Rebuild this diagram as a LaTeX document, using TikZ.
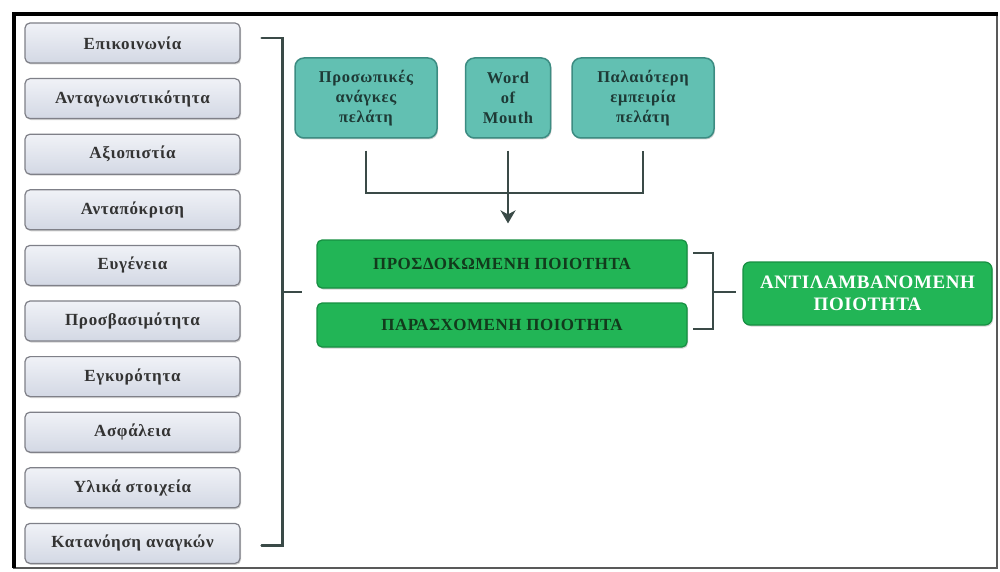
\documentclass[tikz,border=0pt]{standalone}
\usepackage{fontspec}
\setmainfont{Liberation Serif}
\newfontfamily\spacedA[LetterSpace=4]{Liberation Serif}
\newfontfamily\spacedB[LetterSpace=3]{Liberation Serif}
\usetikzlibrary{shadows,arrows.meta}
\definecolor{lefttop}{HTML}{F0F2F7}
\definecolor{leftbot}{HTML}{D3D8E4}
\definecolor{leftdraw}{HTML}{7F8088}
\definecolor{tealfill}{HTML}{62C0B2}
\definecolor{tealdraw}{HTML}{3C8C82}
\definecolor{tealtext}{HTML}{1E3A36}
\definecolor{greenfill}{HTML}{22B556}
\definecolor{greendraw}{HTML}{178F42}
\definecolor{greentext}{HTML}{123A1C}
\definecolor{linecol}{HTML}{3A4A47}
\tikzset{
  leftbox/.style={rounded corners=5pt, draw=leftdraw, line width=1.2pt,
    top color=lefttop, bottom color=leftbot,
    minimum width=215pt, minimum height=40pt, inner sep=0pt,
    font=\spacedA\bfseries\fontsize{17}{19}\selectfont, text=black!80,
    drop shadow={shadow xshift=1pt, shadow yshift=-1.5pt, opacity=0.35}},
  tealbox/.style={rounded corners=9pt, draw=tealdraw, line width=1.5pt,
    fill=tealfill, minimum height=80pt, inner sep=0pt, align=center,
    font=\spacedA\bfseries\fontsize{16.5}{20}\selectfont, text=tealtext,
    drop shadow={shadow xshift=1pt, shadow yshift=-1.5pt, opacity=0.35}},
  greenbox/.style={rounded corners=5pt, draw=greendraw, line width=1.2pt,
    fill=greenfill, minimum width=370pt, inner sep=0pt,
    font=\spacedB\bfseries\fontsize{17}{19}\selectfont, text=greentext,
    drop shadow={shadow xshift=1pt, shadow yshift=-1.5pt, opacity=0.35}},
  bigbox/.style={rounded corners=7pt, draw=greendraw, line width=1.2pt,
    fill=greenfill, minimum width=249pt, minimum height=63pt, inner sep=0pt,
    align=center, font=\spacedB\bfseries\fontsize{19}{22}\selectfont, text=white,
    drop shadow={shadow xshift=1pt, shadow yshift=-1.5pt, opacity=0.35}},
  conn/.style={draw=linecol, line width=2.4pt},
}
\begin{document}
\begin{tikzpicture}[x=1pt,y=-1pt]
\useasboundingbox (0,0) rectangle (1000,572);
\fill[white] (0,0) rectangle (1000,572);
% frame
\draw[line width=2pt, black!65] (997,13) -- (997,568) -- (13,568);
\draw[line width=4pt, black] (14,568) -- (14,14) -- (998,14);
% left boxes
\foreach \t [count=\i from 0] in {Επικοινωνία, Ανταγωνιστικότητα, Αξιοπιστία, Ανταπόκριση, Ευγένεια, Προσβασιμότητα, Εγκυρότητα, Ασφάλεια, Υλικά στοιχεία, Κατανόηση αναγκών}{
  \node[leftbox] (l\i) at (132.5,{43+55.6*\i}) {\t};
}
% top boxes
\node[tealbox, minimum width=142pt] (p1) at (366,98) {Προσωπικές\\ανάγκες\\πελάτη};
\node[tealbox, minimum width=85pt] (p2) at (508,98) {Word\\of\\Mouth};
\node[tealbox, minimum width=142pt] (p3) at (643,98) {Παλαιότερη\\εμπειρία\\πελάτη};
% green boxes
\node[greenbox, minimum height=48pt] (exp) at (502,264) {ΠΡΟΣΔΟΚΩΜΕΝΗ ΠΟΙΟΤΗΤΑ};
\node[greenbox, minimum height=44pt] (del) at (502,325) {ΠΑΡΑΣΧΟΜΕΝΗ ΠΟΙΟΤΗΤΑ};
\node[bigbox] (per) at (867.5,293.5) {ΑΝΤΙΛΑΜΒΑΝΟΜΕΝΗ\\ΠΟΙΟΤΗΤΑ};
% connectors from top boxes
\draw[conn] ([yshift=-12pt]p1.south) -- ([yshift=-54pt]p1.south) -| ([yshift=-12pt]p3.south);
\draw[conn, -{Stealth[length=13pt,width=15pt,inset=4pt]}] ([yshift=-12pt]p2.south) -- ([yshift=16pt]exp.north -| p2.south);
% left bracket
\coordinate (lbt) at ([xshift=21pt,yshift=5pt]l0.east);
\coordinate (lbb) at ([xshift=21pt,yshift=-2pt]l9.east);
\draw[conn, line cap=round] (lbt) -- ++(21,0) |- (lbb);
\draw[conn] (282,292) -- ([xshift=-14pt]exp.west |- 0,292);
% right bracket
\coordinate (rbt) at (693,253);
\coordinate (rbb) at (693,329);
\draw[conn] (rbt) -- ++(20,0) |- (rbb);
\draw[conn] (713,292) -- ([xshift=-6pt]per.west |- 0,292);
\end{tikzpicture}
\end{document}
